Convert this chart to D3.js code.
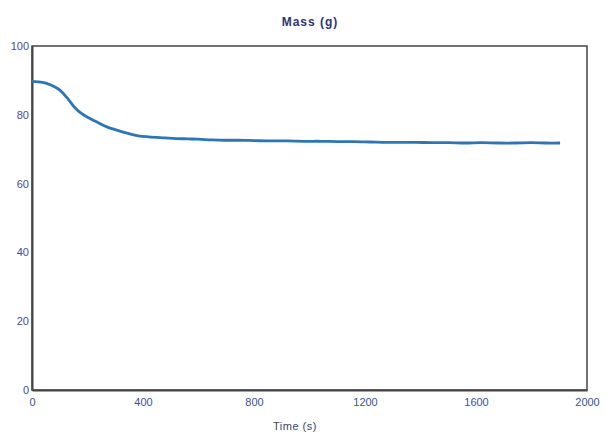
<!DOCTYPE html>
<html>
<head>
<meta charset="utf-8">
<script src="https://cdn.jsdelivr.net/npm/d3@7"></script>
<style>
  body { margin: 0; background: #fff; }
  text { font-family: "Liberation Sans", Arial, sans-serif; }
</style>
</head>
<body>
<script>
// values
var time = [0, 20, 47, 70, 95, 115, 131, 150, 173, 200, 239, 270, 311, 350, 383, 420, 479, 520, 560, 598, 650, 695,
            740, 800, 860, 920, 980, 1040, 1100, 1160, 1220, 1280, 1326, 1380, 1440, 1500, 1560, 1620, 1680, 1740, 1800, 1850, 1903];
var mass = [89.7, 89.6, 89.3, 88.6, 87.5, 86.0, 84.5, 82.5, 80.7, 79.3, 77.7, 76.5, 75.4, 74.5, 73.9, 73.6, 73.3, 73.1, 73.0, 72.9, 72.7, 72.6,
            72.6, 72.5, 72.4, 72.4, 72.3, 72.3, 72.2, 72.2, 72.1, 72.0, 72.0, 72.0, 71.9, 71.9, 71.8, 71.9, 71.8, 71.8, 71.9, 71.8, 71.8];
var xTicks = [0, 400, 800, 1200, 1600, 2000];
var yTicks = [0, 20, 40, 60, 80, 100];

var width = 606, height = 437;
var margin = {left: 32, right: 19, top: 46, bottom: 47};

var svg = d3.select("body").append("svg")
	.attr("width", width)
	.attr("height", height);

var x = d3.scaleLinear().domain([0, 2000]).range([margin.left, width - margin.right]);
var y = d3.scaleLinear().domain([0, 100]).range([height - margin.bottom, margin.top]);

// frame
svg.append("rect")
	.attr("x", x(0))
	.attr("y", y(100))
	.attr("width", x(2000) - x(0))
	.attr("height", y(0) - y(100))
	.style("fill", "none")
	.style("stroke", "#444")
	.style("stroke-width", 1.5);

svg.append("g")
	.attr("transform", "translate(0," + y(0) + ")")
	.call(d3.axisBottom(x).tickValues(xTicks).tickSize(0).tickPadding(8).tickFormat(d3.format("d")))
	.call(function(g){ g.select(".domain").style("stroke", "#444").style("stroke-width", 2); })
	.selectAll("text")
	.style("font-size", "11px")
	.style("fill", "#3b4f9a");

svg.append("g")
	.attr("transform", "translate(" + x(0) + ",0)")
	.call(d3.axisLeft(y).tickValues(yTicks).tickSize(0).tickPadding(3))
	.call(function(g){ g.select(".domain").style("stroke", "#444").style("stroke-width", 2); })
	.selectAll("text")
	.style("font-size", "11px")
	.style("fill", "#3b4f9a");

var line = d3.line()
	.x(function(d, i){ return x(time[i]); })
	.y(function(d){ return y(d); })
	.curve(d3.curveCatmullRom);

svg.append("path")
	.datum(mass)
	.attr("d", line)
	.style("fill", "none")
	.style("stroke", "#2e75b6")
	.style("stroke-width", 2.8);

svg.append("text")
	.attr("x", 310)
	.attr("y", 26)
	.attr("text-anchor", "middle")
	.style("font-size", "12px")
	.style("font-weight", "bold")
	.style("letter-spacing", "1px")
	.style("fill", "#2a3570")
	.text("Mass (g)");

svg.append("text")
	.attr("x", 295)
	.attr("y", 430)
	.attr("text-anchor", "middle")
	.style("font-size", "11px")
	.style("letter-spacing", "0.5px")
	.style("fill", "#3a4560")
	.text("Time (s)");
</script>
</body>
</html>
